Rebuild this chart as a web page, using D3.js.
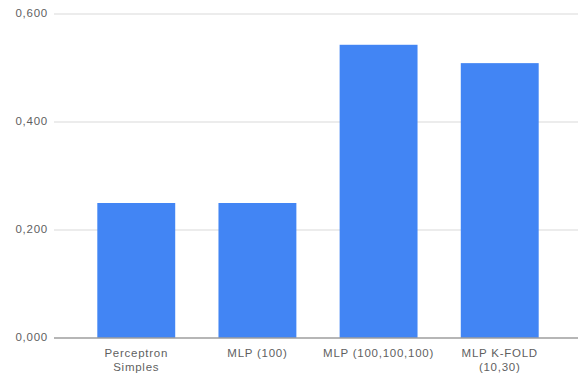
<!DOCTYPE html>
<html>
<head>
<meta charset="utf-8">
<script src="https://cdn.jsdelivr.net/npm/d3@7"></script>
<style>
  html, body { margin: 0; padding: 0; background: #fff; }
  svg { display: block; }
  text { font-family: "Liberation Sans", Arial, sans-serif; fill: #5f5f5f; letter-spacing: 0.75px; }
</style>
</head>
<body>
<script>
// Accuracy per model
const categories = [["Perceptron", "Simples"], ["MLP (100)"], ["MLP (100,100,100)"], ["MLP K-FOLD", "(10,30)"]];
const values = [0.250, 0.250, 0.543, 0.509];
const yTicks = [0, 0.2, 0.4, 0.6];
const yTickLabels = ["0,000", "0,200", "0,400", "0,600"];

const W = 578, H = 378;
const svg = d3.select("body").append("svg").attr("width", W).attr("height", H);

const x = d3.scaleBand()
  .domain(d3.range(categories.length))
  .range([75.5, 560.5])
  .paddingInner(0.357)
  .paddingOuter(0.18);

const y = d3.scaleLinear().domain([0, 0.6]).range([338, 14]);

// horizontal gridlines
svg.append("g").selectAll("line")
  .data(yTicks.filter(d => d > 0))
  .join("line")
  .attr("x1", 54).attr("x2", W)
  .attr("y1", d => y(d)).attr("y2", d => y(d))
  .attr("stroke", "#e6e6e6").attr("stroke-width", 1.3);

// y tick labels
svg.append("g").selectAll("text")
  .data(yTicks)
  .join("text")
  .attr("x", 48).attr("y", d => y(d))
  .attr("dy", "0.22em")
  .attr("text-anchor", "end")
  .attr("font-size", 11.5)
  .text((d, i) => yTickLabels[i]);

// bars
svg.append("g").selectAll("rect")
  .data(values)
  .join("rect")
  .attr("x", (d, i) => x(i))
  .attr("width", x.bandwidth())
  .attr("y", d => y(d))
  .attr("height", d => y(0) - y(d))
  .attr("fill", "#4285f4");

// baseline
svg.append("line")
  .attr("x1", 54).attr("x2", W)
  .attr("y1", y(0)).attr("y2", y(0))
  .attr("stroke", "#9e9e9e").attr("stroke-width", 1.5);

// category labels
const lab = svg.append("g").selectAll("text")
  .data(categories)
  .join("text")
  .attr("text-anchor", "middle")
  .attr("font-size", 11.5)
  .attr("x", (d, i) => x(i) + x.bandwidth() / 2)
  .attr("y", 357);
lab.selectAll("tspan")
  .data(d => d)
  .join("tspan")
  .attr("x", function () { return d3.select(this.parentNode).attr("x"); })
  .attr("dy", (d, i) => i === 0 ? 0 : 14)
  .text(d => d);
</script>
</body>
</html>
